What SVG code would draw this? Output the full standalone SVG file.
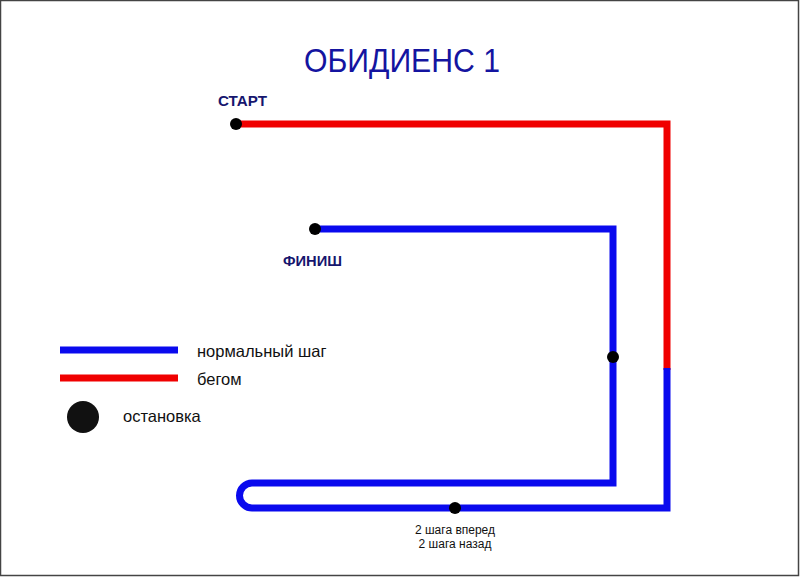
<svg xmlns="http://www.w3.org/2000/svg" width="800" height="577" viewBox="0 0 800 577">
<style>
text{font-family:"Liberation Sans",Arial,sans-serif}
.red{stroke:#f00000;stroke-width:7;fill:none}
.blue{stroke:#0a0aee;stroke-width:7;fill:none}
.dot{fill:#000}
.lbl{fill:#16166e;font-size:14.5px;font-weight:bold}
.leg{fill:#111;font-size:16.5px}
.note{fill:#111;font-size:12px;text-anchor:middle}
</style>
<rect x="0.5" y="0.5" width="798" height="575" fill="#fff" stroke="#444" stroke-width="1.5"/>
<g id="title"><text x="402" y="72" font-size="33" fill="#1414a0" text-anchor="middle" textLength="196" lengthAdjust="spacingAndGlyphs">ОБИДИЕНС 1</text></g>
<g id="connectors">
<polyline class="red" points="236,124 667,124 667,370"/>
<path class="blue" d="M667,368 V508 H252 A12.5,12.5 0 0 1 252,483 H613 V229 H315"/>
</g>
<g id="start"><circle class="dot" cx="236" cy="124" r="6"/><text class="lbl" x="218" y="106" textLength="49" lengthAdjust="spacingAndGlyphs">СТАРТ</text></g>
<g id="finish"><circle class="dot" cx="315" cy="229" r="6"/><text class="lbl" x="283" y="266" textLength="59" lengthAdjust="spacingAndGlyphs">ФИНИШ</text></g>
<g id="stop1"><circle class="dot" cx="613" cy="357" r="6"/></g>
<g id="stop2"><circle class="dot" cx="455" cy="508" r="6"/><text class="note" x="455" y="534">2 шага вперед</text><text class="note" x="455" y="548">2 шага назад</text></g>
<g id="legend">
<line x1="60" y1="350" x2="178" y2="350" stroke="#0a0aee" stroke-width="7"/>
<text class="leg" x="197" y="357">нормальный шаг</text>
<line x1="60" y1="378" x2="178" y2="378" stroke="#f00000" stroke-width="7"/>
<text class="leg" x="197" y="385">бегом</text>
<circle cx="83" cy="417" r="16" fill="#111"/>
<text class="leg" x="123" y="422">остановка</text>
</g>
</svg>
